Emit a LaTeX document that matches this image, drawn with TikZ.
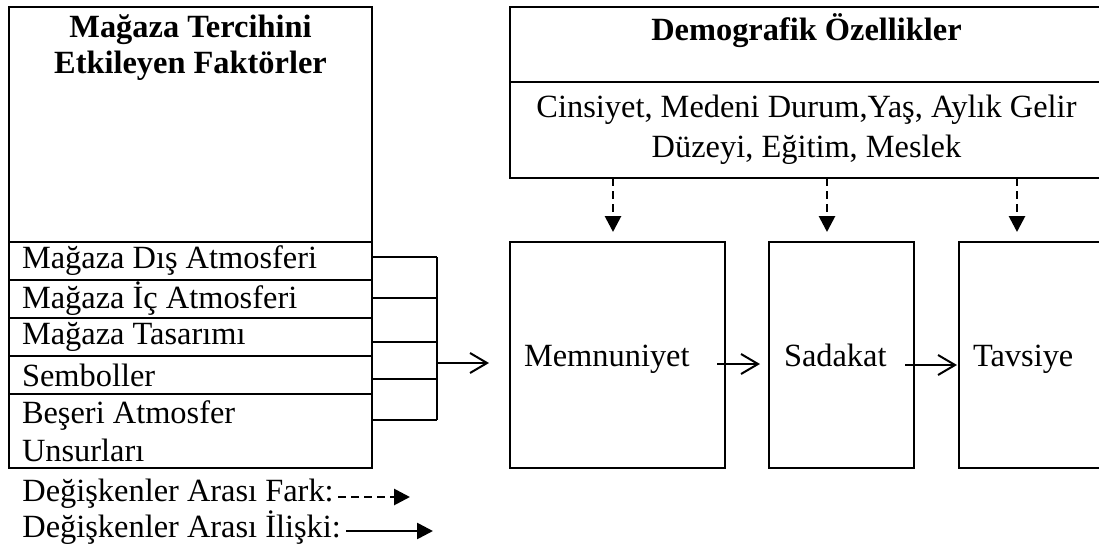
\documentclass[tikz,border=0pt]{standalone}
\usepackage{fontspec}
\setmainfont{Liberation Serif}
\usetikzlibrary{arrows.meta,calc}

\begin{document}
\begin{tikzpicture}[x=0.5pt,y=-0.5pt,
  font=\fontsize{16.2pt}{19pt}\selectfont,
  box/.style={draw,line width=1.2pt,anchor=north west,inner sep=0pt,outer sep=0pt},
  boldtitle/.style={anchor=north,align=center,inner sep=0pt,font=\bfseries\fontsize{16.2pt}{18pt}\selectfont},
  rowbox/.style={box,minimum height=19pt,text width=168.5pt,inner xsep=6.5pt,align=flush left},
  stagebox/.style={box,minimum height=113pt,align=flush left,text height=14.5pt,text depth=3.5pt},
  rel/.style={line width=1pt,-{Straight Barb[length=8.5pt,width=10pt]}},
  diff/.style={line width=1.4pt,dash pattern=on 4pt off 2.5pt,-{Triangle[length=8pt,width=8pt]}},
  legrel/.style={line width=1.3pt,-{Triangle[length=8pt,width=8pt]}}]
\useasboundingbox (0,0) rectangle (1099,547);

% Factors
\node[box,minimum width=181.5pt,minimum height=117.5pt] (fac) at (9,7) {};
\node[boldtitle] (factitle) at ([yshift=-3.5pt]fac.north) {Mağaza Tercihini\\Etkileyen Faktörler};
\node[rowbox] (f1) at (fac.south west) {Mağaza Dış Atmosferi};
\node[rowbox] (f2) at (f1.south west) {Mağaza İç Atmosferi};
\node[rowbox] (f3) at (f2.south west) {Mağaza Tasarımı};
\node[rowbox] (f4) at (f3.south west) {Semboller};
\node[rowbox,minimum height=37pt] (f5) at (f4.south west) {Beşeri Atmosfer\\Unsurları};

% Demographics
\node[box,minimum width=296.5pt,minimum height=37.5pt] (demt) at (510,7) {};
\node[boldtitle] (demtitle) at ([yshift=-3pt]demt.north) {Demografik Özellikler};
\node[box,minimum width=296.5pt,minimum height=48pt,align=center,
  font=\fontsize{16.2pt}{20pt}\selectfont] (demb) at (demt.south west)
  {Cinsiyet, Medeni Durum,Yaş, Aylık Gelir\\Düzeyi, Eğitim, Meslek};

% Stages
\node[stagebox,text width=93.5pt,inner xsep=7pt] (mem) at (510,242) {Memnuniyet};
\node[stagebox,text width=57.5pt,inner xsep=7.5pt] (sad) at (769,242) {Sadakat};
\node[stagebox,text width=58pt,inner xsep=7pt] (tav) at (959,242) {Tavsiye};

% Bracket
\foreach \r/\dy in {f1/-4,f2/-1,f3/5,f4/4,f5/-11}
  \draw[line width=0.8pt] ($(\r.east)+(0,\dy)$) -- ++(65,0);
\coordinate (bt) at ($(f1.east)+(65,-4)$);
\coordinate (bb) at ($(f5.east)+(65,-11)$);
\coordinate (bo) at ($(bt)+(0,106)$);
\draw[line width=0.8pt] (bt) -- (bb);
\draw[rel] (bo) -- ([shift={(-10.5pt,-4pt)}]mem.west);
\draw[rel] ([shift={(-4pt,-4.5pt)}]mem.east) -- ([shift={(-4.5pt,-4.5pt)}]sad.west);
\draw[rel] ([shift={(-4.5pt,-5pt)}]sad.east) -- ([shift={(-1pt,-5pt)}]tav.west);

% Demographics to stages
\foreach \s/\dx in {mem/-4.5,sad/-14.5,tav/-14}
  \draw[diff] ($(\s.north)+(\dx,-64)$) -- ($(\s.north)+(\dx,-10)$);

% Legend
\node[anchor=west,inner sep=0pt] (lfark) at (22,494) {Değişkenler Arası Fark:};
\node[anchor=west,inner sep=0pt] (liliski) at (22,528) {Değişkenler Arası İlişki:};
\coordinate (fe) at (410,497);
\coordinate (ie) at (433,531);
\draw[diff] (lfark.east |- fe) ++(4,0) -- (fe);
\draw[legrel] (liliski.east |- ie) ++(5,0) -- (ie);
\end{tikzpicture}
\end{document}
